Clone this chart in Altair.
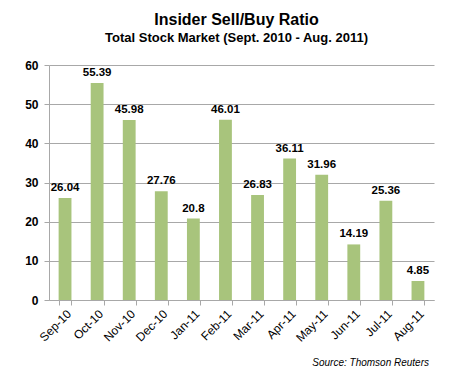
import altair as alt
import pandas as pd

months = ["Sep-10", "Oct-10", "Nov-10", "Dec-10", "Jan-11", "Feb-11",
          "Mar-11", "Apr-11", "May-11", "Jun-11", "Jul-11", "Aug-11"]
ratios = [26.04, 55.39, 45.98, 27.76, 20.8, 46.01,
          26.83, 36.11, 31.96, 14.19, 25.36, 4.85]
labels = ["26.04", "55.39", "45.98", "27.76", "20.8", "46.01",
          "26.83", "36.11", "31.96", "14.19", "25.36", "4.85"]
y_ticks = [0, 10, 20, 30, 40, 50, 60]

df = pd.DataFrame({"month": months, "ratio": ratios, "label": labels})

FONT = "Liberation Sans"

x = alt.X("month:N", sort=months, title=None,
          scale=alt.Scale(paddingInner=0.6, paddingOuter=0.3),
          axis=alt.Axis(labelAngle=-45, labelFont=FONT, labelFontSize=12,
                        labelColor="#000000", domainColor="#a8a8a8",
                        tickColor="#a8a8a8", tickSize=5, tickBand="extent",
                        labelPadding=3))
y = alt.Y("ratio:Q", title=None,
          scale=alt.Scale(domain=[0, 60], nice=False),
          axis=alt.Axis(values=y_ticks, labelFont=FONT, labelFontSize=12,
                        labelFontWeight="bold", labelColor="#000000",
                        domainColor="#a8a8a8", tickColor="#a8a8a8", tickSize=5,
                        gridColor="#a8a8a8", labelPadding=6))

base = alt.Chart(df).encode(x=x, y=y)
bars = base.mark_bar(color="#A8C47C")
text = base.mark_text(baseline="bottom", dy=-5, font=FONT,
                      fontSize=11.5, fontWeight="bold",
                      color="#000000").encode(text="label:N")

source = alt.Chart(pd.DataFrame({"s": ["Source: Thomson Reuters"]})).mark_text(
    align="right", baseline="alphabetic", font=FONT, fontSize=10,
    fontStyle="italic", color="#000000").encode(
    x=alt.value(380), y=alt.value(301), text="s:N")

chart = alt.layer(bars, text, source).properties(
    width=385, height=235,
    title=alt.TitleParams(
        "Insider Sell/Buy Ratio",
        subtitle="Total Stock Market (Sept. 2010 - Aug. 2011)",
        anchor="middle", font=FONT, fontSize=16, fontWeight="bold",
        color="#000000", subtitleFont=FONT, subtitleFontSize=13,
        subtitleFontWeight="bold", subtitleColor="#000000",
        subtitlePadding=4, offset=14, dx=-5),
    autosize=alt.AutoSizeParams(type="none"),
    padding={"left": 41, "top": 57, "right": 32, "bottom": 69},
).configure_view(stroke=None).configure_axis(gridWidth=1)

chart.save("out.html", embed_options={"renderer": "svg", "actions": False})
